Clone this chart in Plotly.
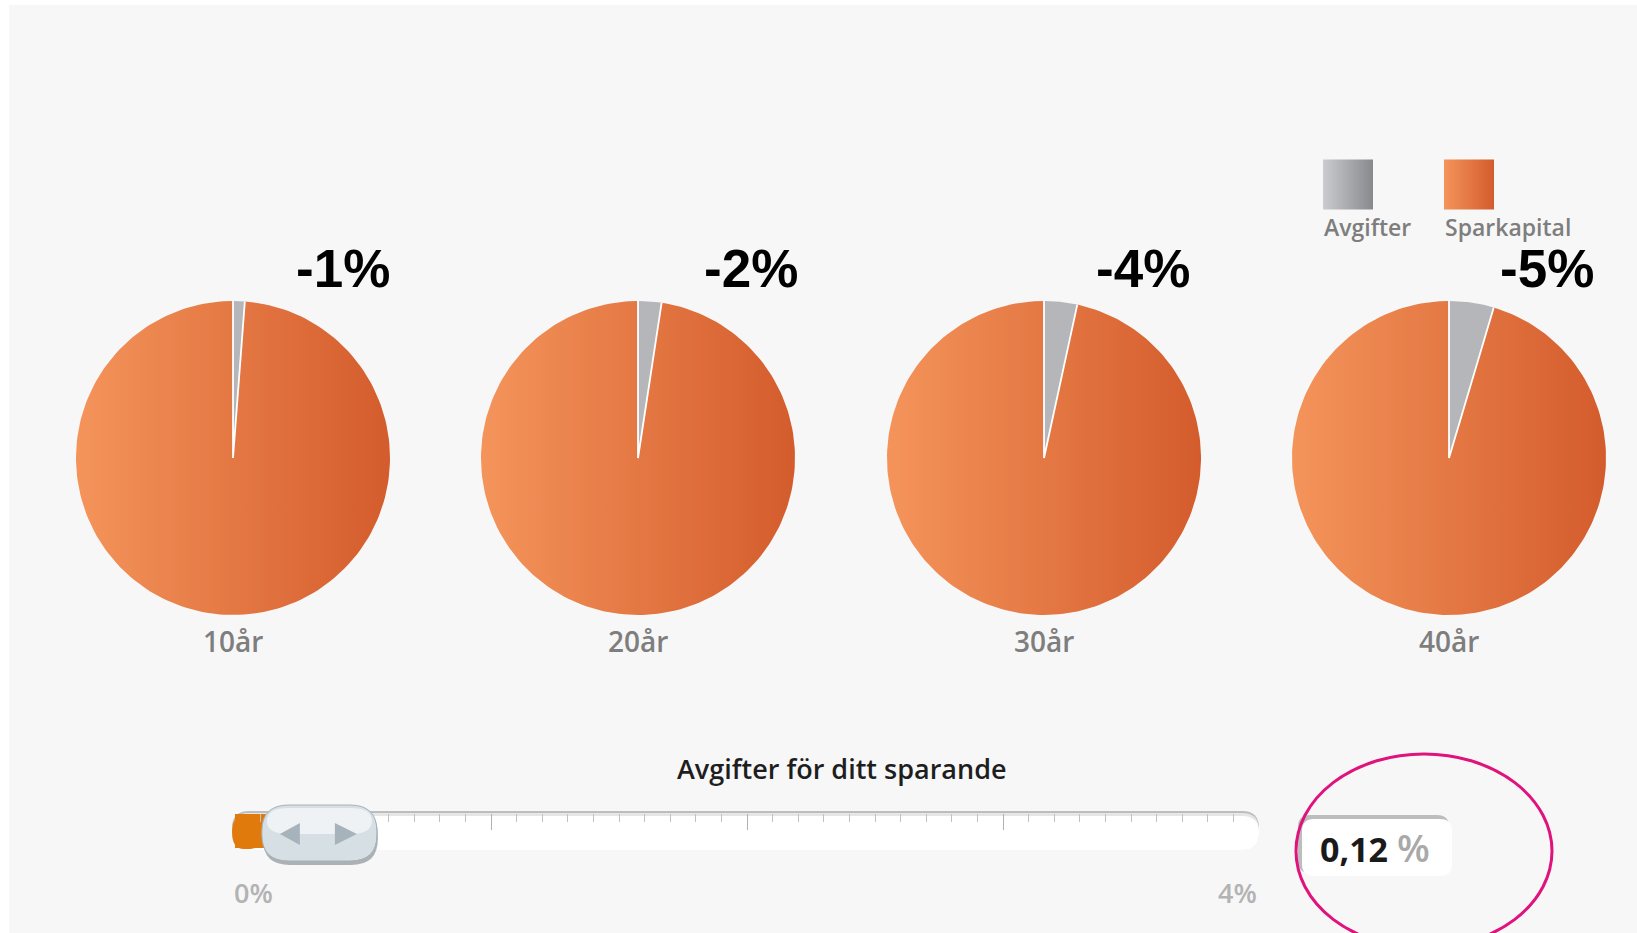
import numpy as np
import plotly.graph_objects as go

# ---------------- data ----------------
years = ["10år", "20år", "30år", "40år"]
fee_share = [1.2, 2.4, 3.4, 4.6]          # Avgifter (% of pie)
capital_share = [98.8, 97.6, 96.6, 95.4]  # Sparkapital (% of pie)
change_labels = ["-1%", "-2%", "-4%", "-5%"]
legend_names = ["Avgifter", "Sparkapital"]
fee_rate = 0.12                            # slider value, %
rate_range = [0, 4]
rate_tick_labels = ["0%", "4%"]
slider_title = "Avgifter för ditt sparande"

# ---------------- layout constants (pixels) ----------------
W, H = 1637, 933
pie_cx = [233, 638, 1044, 1449]
pie_cy = 458
pie_r = 157
label_x = [343, 751, 1143, 1547]
label_y = 268
year_y = 641

ORANGE_L, ORANGE_R = "#f4945b", "#d45c2c"
GRAY_FILL = "#b4b6b9"
GRAY_L, GRAY_R = "#cbcccf", "#88898c"

fig = go.Figure()


def arc_pts(cx, cy, r, a0, a1, n=200):
    a = np.radians(np.linspace(a0, a1, n))
    return cx + r * np.sin(a), cy - r * np.cos(a)


for i in range(len(years)):
    cx = pie_cx[i]
    total = fee_share[i] + capital_share[i]
    a_fee = 360.0 * fee_share[i] / total
    # Sparkapital wedge (gradient)
    ax, ay = arc_pts(cx, pie_cy, pie_r, a_fee, 360)
    fig.add_trace(go.Scatter(
        x=np.concatenate([[cx], ax, [cx]]), y=np.concatenate([[pie_cy], ay, [pie_cy]]),
        mode="lines", fill="toself", line=dict(width=0, color=ORANGE_R),
        fillgradient=dict(type="horizontal", start=cx - pie_r, stop=cx + pie_r,
                          colorscale=[[0, ORANGE_L], [1, ORANGE_R]]),
        hoverinfo="skip", showlegend=False, xaxis="x", yaxis="y"))
    # Avgifter wedge
    gx, gy = arc_pts(cx, pie_cy, pie_r, 0, a_fee, 40)
    fig.add_trace(go.Scatter(
        x=np.concatenate([[cx], gx, [cx]]), y=np.concatenate([[pie_cy], gy, [pie_cy]]),
        mode="lines", fill="toself", fillcolor=GRAY_FILL, line=dict(width=0, color=GRAY_FILL),
        hoverinfo="skip", showlegend=False, xaxis="x", yaxis="y"))
    # white separators
    ex, ey = arc_pts(cx, pie_cy, pie_r, a_fee, a_fee, 1)
    fig.add_trace(go.Scatter(
        x=[cx, cx, cx, ex[0]], y=[pie_cy - pie_r, pie_cy, pie_cy, ey[0]],
        mode="lines", line=dict(color="white", width=1.8),
        hoverinfo="skip", showlegend=False, xaxis="x", yaxis="y"))
    fig.add_annotation(x=label_x[i], y=label_y, xref="x", yref="y", text=change_labels[i],
                       showarrow=False, xanchor="center", yanchor="middle",
                       font=dict(family="Liberation Sans, Arial", size=53, color="black", weight="bold"))
    fig.add_annotation(x=cx, y=year_y, xref="x", yref="y", text=years[i],
                       showarrow=False, xanchor="center", yanchor="middle",
                       font=dict(family="Open Sans", size=28, color="#7e7e7e", weight=600))

# ---------------- legend ----------------
leg_x = [1348, 1469]
leg_y = 184.5
leg_colors = [(GRAY_L, GRAY_R), (ORANGE_L, ORANGE_R)]
for j, name in enumerate(legend_names):
    cl, cr = leg_colors[j]
    fig.add_trace(go.Scatter(
        x=[leg_x[j]], y=[leg_y], mode="markers",
        marker=dict(symbol="square", size=50, color=cl, line=dict(width=0),
                    gradient=dict(type="horizontal", color=cr)),
        hoverinfo="skip", showlegend=False, xaxis="x", yaxis="y"))
    fig.add_annotation(x=leg_x[j] - 26, y=227, xref="x", yref="y", text=name,
                       showarrow=False, xanchor="left", yanchor="middle",
                       font=dict(family="Open Sans", size=23, color="#7e7e7e", weight=600))


# ---------------- slider ----------------
def rrect(x0, x1, y0, y1, rx, ry):
    return (f"M{x0 + rx},{y0} L{x1 - rx},{y0} Q{x1},{y0} {x1},{y0 + ry} "
            f"L{x1},{y1 - ry} Q{x1},{y1} {x1 - rx},{y1} L{x0 + rx},{y1} "
            f"Q{x0},{y1} {x0},{y1 - ry} L{x0},{y0 + ry} Q{x0},{y0} {x0 + rx},{y0} Z")


TR_X0, TR_X1 = 235, 1259   # pixel extent of the 0%..4% scale
TR_Y0, TR_Y1 = 814, 848

shapes = []
# page background
shapes.append(dict(type="rect", xref="x", yref="y", x0=9, x1=W + 5, y0=5, y1=H + 5,
                   fillcolor="#f7f7f7", line=dict(width=0), layer="below"))
# track
shapes.append(dict(type="path", xref="x", yref="y", path=rrect(232, 1259, 811, 849, 17, 17),
                   fillcolor="#bdbdbd", line=dict(width=0), layer="below"))
shapes.append(dict(type="path", xref="x", yref="y", path=rrect(232, 1259, 813, 850, 17, 17),
                   fillcolor="#e6e6e6", line=dict(width=0), layer="below"))
shapes.append(dict(type="path", xref="x", yref="y", path=rrect(232, 1259, 816, 850, 17, 17),
                   fillcolor="white", line=dict(width=0), layer="below"))
# rounded orange cap at the left end
shapes.append(dict(type="path", xref="x", yref="y", path=rrect(232, 262, 815, 849, 12, 17),
                   fillcolor="#e17a0c", line=dict(width=0), layer="below"))

fig.add_trace(go.Bar(x=[fee_rate], y=[0.5], base=0, orientation="h", width=1,
                     marker=dict(color="#e17a0c", line=dict(width=0)),
                     hoverinfo="skip", showlegend=False, xaxis="x2", yaxis="y2"))

# thumb (position from slider value on x2 scale)
px = (rate_range[1] - rate_range[0]) / (TR_X1 - TR_X0)   # x2 units per pixel
t0 = fee_rate - 0.015
t1 = t0 + 115 * px
shapes.append(dict(type="path", xref="x2", yref="y", path=rrect(t0 + 1 * px, t1 + 1 * px, 808, 865, 27 * px, 26),
                   fillcolor="rgba(110,120,125,0.55)", line=dict(width=0), layer="above"))
shapes.append(dict(type="path", xref="x2", yref="y", path=rrect(t0, t1, 805, 861, 27 * px, 26),
                   fillcolor="#d6dfe4", line=dict(color="#a6b1b8", width=1), layer="above"))
shapes.append(dict(type="path", xref="x2", yref="y", path=rrect(t0 + 5 * px, t1 - 5 * px, 808, 834, 22 * px, 13),
                   fillcolor="#eef2f4", line=dict(width=0), layer="above"))
# arrows
shapes.append(dict(type="path", xref="x2", yref="y",
                   path=f"M{t0 + 18 * px},834 L{t0 + 38 * px},823 L{t0 + 38 * px},845 Z",
                   fillcolor="#a7b3bb", line=dict(width=0), layer="above"))
shapes.append(dict(type="path", xref="x2", yref="y",
                   path=f"M{t0 + 95 * px},834 L{t0 + 73 * px},823 L{t0 + 73 * px},845 Z",
                   fillcolor="#a7b3bb", line=dict(width=0), layer="above"))

# value box
shapes.append(dict(type="path", xref="x", yref="y", path=rrect(1298, 1449, 815, 873, 12, 12),
                   fillcolor="#bdbdbd", line=dict(width=0), layer="above"))
shapes.append(dict(type="path", xref="x", yref="y", path=rrect(1302, 1452, 819, 876, 12, 12),
                   fillcolor="white", line=dict(width=0), layer="above"))
# highlight ellipse
shapes.append(dict(type="circle", xref="x", yref="y", x0=1296, x1=1552, y0=754, y1=948,
                   line=dict(color="#e0137d", width=3), fillcolor="rgba(0,0,0,0)", layer="above"))

fig.add_annotation(x=842, y=768, xref="x", yref="y", text=slider_title, showarrow=False,
                   xanchor="center", yanchor="middle",
                   font=dict(family="Open Sans", size=27, color="#1e1e1e", weight=600))
fig.add_annotation(x=rate_range[0], y=892, xref="x2", yref="y", text=rate_tick_labels[0],
                   showarrow=False, xanchor="left", yanchor="middle", xshift=-3,
                   font=dict(family="Open Sans", size=27, color="#b3b3b3", weight=600))
fig.add_annotation(x=rate_range[1], y=892, xref="x2", yref="y", text=rate_tick_labels[1],
                   showarrow=False, xanchor="right", yanchor="middle",
                   font=dict(family="Open Sans", size=27, color="#b3b3b3", weight=600))
value_txt = f"{fee_rate:.2f}".replace(".", ",")
fig.add_annotation(x=1318, y=847, xref="x", yref="y",
                   text=(f"<b>{value_txt}</b> "
                         f"<span style='color:#a9a9a9;font-size:38px'>%</span>"),
                   showarrow=False, xanchor="left", yanchor="middle",
                   font=dict(family="Open Sans", size=34, color="#1a1a1a", weight=600))

major = [1, 2, 3]
minor = [round(v / 10, 1) for v in range(1, 40) if v % 10 != 0]

fig.update_layout(
    width=W, height=H, autosize=False,
    margin=dict(l=0, r=0, t=0, b=0, pad=0),
    paper_bgcolor="white", plot_bgcolor="rgba(0,0,0,0)",
    showlegend=False, shapes=shapes,
    xaxis=dict(range=[0, W], domain=[0, 1], visible=False, fixedrange=True),
    yaxis=dict(range=[H, 0], domain=[0, 1], visible=False, fixedrange=True),
    xaxis2=dict(range=rate_range, domain=[TR_X0 / W, TR_X1 / W], anchor="y2", side="top",
                ticks="inside", tickmode="array", tickvals=major, ticklen=16, tickwidth=1,
                tickcolor="#b0b0b0", showticklabels=False, showgrid=False, zeroline=False,
                showline=False, fixedrange=True,
                minor=dict(tickmode="array", tickvals=minor, ticks="inside", ticklen=8,
                           tickwidth=1, tickcolor="#c2c2c2", showgrid=False)),
    yaxis2=dict(range=[0, 1], domain=[(H - TR_Y1) / H, (H - TR_Y0) / H], anchor="x2",
                visible=False, fixedrange=True),
)

fig.write_html("out.html", config={"displayModeBar": False},
               post_script="document.body.style.margin='0';document.body.style.overflow='hidden';")
